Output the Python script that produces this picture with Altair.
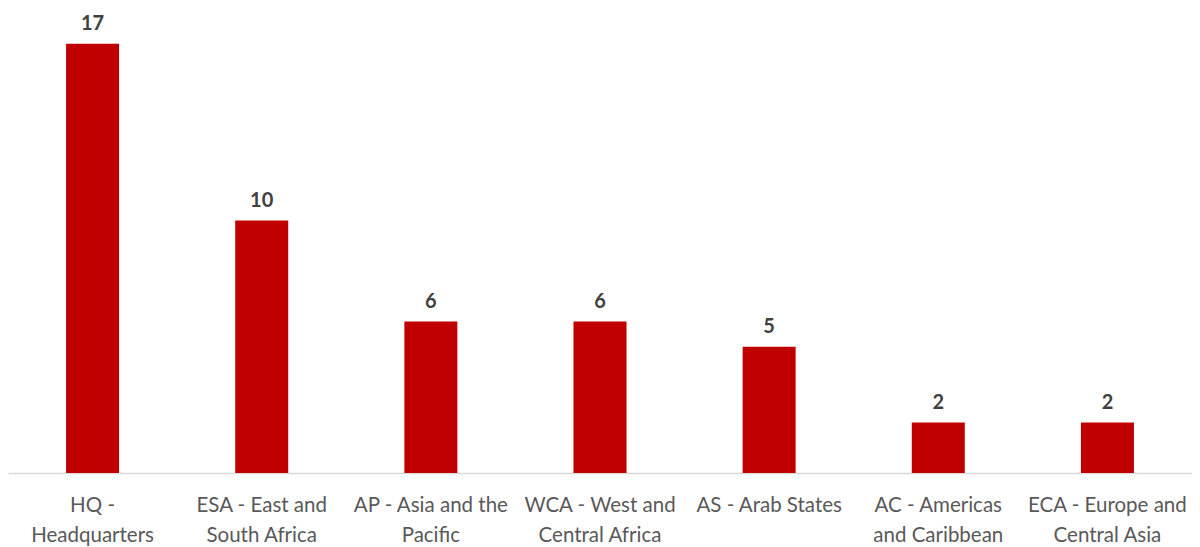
import altair as alt
import pandas as pd

categories = [
    "HQ - Headquarters",
    "ESA - East and South Africa",
    "AP - Asia and the Pacific",
    "WCA - West and Central Africa",
    "AS - Arab States",
    "AC - Americas and Caribbean",
    "ECA - Europe and Central Asia",
]
label_lines = [
    ["HQ -", "Headquarters"],
    ["ESA - East and", "South Africa"],
    ["AP - Asia and the", "Pacific"],
    ["WCA - West and", "Central Africa"],
    ["AS - Arab States"],
    ["AC - Americas", "and Caribbean"],
    ["ECA - Europe and", "Central Asia"],
]
values = [17, 10, 6, 6, 5, 2, 2]

df = pd.DataFrame({"category": categories, "value": values})

label_map = {c: "|".join(l) for c, l in zip(categories, label_lines)}
label_expr = "split({" + ",".join(f"'{k}':'{v}'" for k, v in label_map.items()) + "}[datum.value], '|')"

FONT = "Lato"

base = alt.Chart(df).encode(
    x=alt.X(
        "category:N",
        sort=categories,
        title=None,
        scale=alt.Scale(paddingInner=0, paddingOuter=0),
        axis=alt.Axis(
            labelExpr=label_expr,
            labelAngle=0,
            labelFont=FONT,
            labelFontSize=20.5,
            labelColor="#595959",
            labelLineHeight=30,
            labelPadding=22,
            ticks=False,
            domainColor="#d9d9d9",
            domainWidth=1.5,
            labelLimit=0,
        ),
    ),
    y=alt.Y(
        "value:Q",
        scale=alt.Scale(domain=[0, 18.42], nice=False),
        axis=None,
    ),
)

bars = base.mark_bar(color="#C00000", size=53)
text = base.mark_text(
    dy=-20, font=FONT, fontSize=20, fontWeight="bold", color="#404040"
).encode(text="value:Q")

chart = (
    (bars + text)
    .properties(
        width=1184,
        height=465,
        autosize=alt.AutoSizeParams(type="none"),
        padding={"left": 0, "top": 0, "right": 0, "bottom": 80},
    )
    .configure_view(stroke=None)
    .configure_axis(grid=False)
)

chart.save("out.html", embed_options={"renderer": "svg", "actions": False})
